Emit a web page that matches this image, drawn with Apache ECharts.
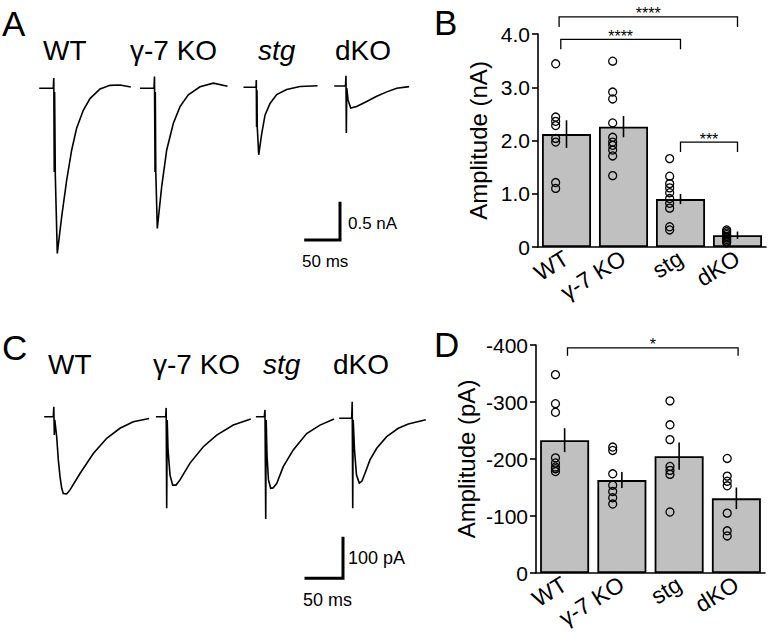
<!DOCTYPE html>
<html><head><meta charset="utf-8">
<script src="https://cdn.jsdelivr.net/npm/echarts@6/dist/echarts.min.js"></script>
<style>html,body{margin:0;padding:0;background:#fff}#c{width:773px;height:637px}</style>
</head><body><div id="c"></div>
<script>
// ---------------- DATA ----------------
const groups = ['WT', 'γ-7 KO', 'stg', 'dKO'];

// Panel B: amplitude (nA)
const B_mean = [2.12, 2.26, 0.90, 0.22];
const B_sem = [0.26, 0.20, 0.095, 0.07];
const B_WT = [3.44, 2.44, 2.36, 2.28, 2.04, 1.97, 1.21, 1.10];
const B_G7 = [3.49, 2.91, 2.78, 2.33, 2.06, 1.97, 1.91, 1.82, 1.71, 1.34];
const B_STG = [1.66, 1.33, 1.19, 1.11, 1.02, 0.91, 0.82, 0.73, 0.38, 0.32];
const B_DKO = [0.32, 0.29, 0.26, 0.23, 0.20, 0.17, 0.14, 0.11, 0.08];
// significance brackets: [x from, x to (category units), height (nA)]
const B_brackets = [[-0.13, 3, 4.32], [-0.10, 2, 3.90], [2, 3, 1.97]];
const B_stars = ['****', '****', '***'];

// Panel D: amplitude (pA)
const D_mean = [-233, -163, -205, -131];
const D_sem = [21, 14, 24, 19];
const D_WT = [-348, -297, -282, -202, -193, -186, -183, -178];
const D_G7 = [-221, -215, -174, -154, -143, -132, -121];
const D_STG = [-302, -260, -234, -187, -180, -173, -107];
const D_DKO = [-201, -170, -161, -153, -105, -74, -65];
const D_brackets = [[0.05, 3.03, -395]];
const D_stars = ['*'];

// Panel A traces: time (ms), current (nA)
const A_WT_t = [0, 19.4, 20.1, 20.8, 21.3, 22.3, 25.2, 31.6, 38.9, 46.2, 53.5, 63.1, 72.9, 87.5, 102.1, 116.6, 131.2];
const A_WT_i = [0, 0, 0.14, -1.14, -0.05, -1.18, -2.25, -1.75, -1.25, -0.84, -0.54, -0.30, -0.14, -0.01, 0.04, 0.045, 0.02];
const A_G7_t = [0, 19.4, 20.1, 20.9, 21.3, 22.0, 24.2, 30.6, 37.9, 47.5, 57.3, 69.4, 86.5, 105.9, 125.4];
const A_G7_i = [0, 0, 0.16, -1.14, -0.05, -1.14, -1.91, -1.34, -0.84, -0.48, -0.25, -0.09, 0.02, 0.07, 0.03];
const A_STG_t = [0, 17.1, 17.5, 17.9, 18.5, 18.9, 21.0, 25.4, 30.2, 37.5, 47.2, 61.8, 81.2, 105.6];
const A_STG_i = [0, 0, 0.10, -0.54, -0.04, -0.54, -0.92, -0.63, -0.38, -0.22, -0.10, -0.03, 0.01, 0.02];
const A_DKO_t = [0, 15.3, 16.0, 16.5, 17.2, 19.0, 22.9, 31.6, 46.2, 60.8, 75.4, 90.0, 106.9];
const A_DKO_i = [0, 0, 0.14, -0.64, -0.03, -0.19, -0.30, -0.28, -0.21, -0.14, -0.08, -0.03, -0.01];
const A_scale = [[0, 0], [50, 0], [50, 0.5]]; // 50 ms, 0.5 nA

// Panel C traces: time (ms), current (pA)
const C_WT_t = [0, 11.2, 11.9, 12.6, 13.2, 15.8, 18.0, 20.3, 22.6, 24.7, 29.3, 33.8, 47.3, 65.3, 83.4, 101.3, 119.3, 139.6];
const C_WT_i = [0, 0, 25, -46, -8, -50, -108, -150, -179, -192, -193, -183, -142, -92, -54, -29, -12.5, -5];
const C_G7_t = [0, 12.2, 12.8, 13.5, 14.2, 15.3, 18.0, 21.6, 26.1, 31.5, 45.0, 63.0, 81.1, 103.5, 126.1];
const C_G7_i = [0, 0, 22, -229, -8, -83, -146, -171, -171, -158, -116, -75, -46, -21, -6.5];
const C_STG_t = [0, 10.3, 11.2, 12.2, 12.8, 13.9, 15.9, 18.9, 22.0, 27.0, 35.9, 49.4, 67.5, 85.5, 103.5];
const C_STG_i = [0, 0, 17, -256, -8, -96, -158, -179, -178, -167, -125, -83, -42, -21, -6.5];
const C_DKO_t = [0, 15.8, 16.5, 17.2, 17.8, 19.6, 22.3, 26.1, 29.7, 33.8, 40.5, 49.6, 63.1, 78.8, 92.3, 114.9];
const C_DKO_i = [0, 0, 41.5, -225, -4, -79, -142, -162, -157, -137.5, -104, -75, -46, -25, -14, -4];
const C_scale = [[0, 0], [50, 0], [50, 100]]; // 50 ms, 100 pA

// ---------------- LAYOUT / BUILD ----------------
const FONT = 'Liberation Sans, Arial, Helvetica, sans-serif';
const grids = [], xAxes = [], yAxes = [], series = [];

function addGrid(g) { g.outerBoundsMode = 'none'; g.containLabel = false; grids.push(g); return grids.length - 1; }

function traceAxes(x0, y0, pxX, pxY, up, down, width) {
  const gi = addGrid({ left: x0, top: y0 - up, width: width, height: up + down });
  xAxes.push({ type: 'value', gridIndex: gi, min: 0, max: width / pxX, show: false });
  yAxes.push({ type: 'value', gridIndex: gi, min: -down / pxY, max: up / pxY, show: false });
  return { x: xAxes.length - 1, y: yAxes.length - 1 };
}
function traceSeries(ax, t, v, w) {
  series.push({
    type: 'line', xAxisIndex: ax.x, yAxisIndex: ax.y, data: t.map((tt, k) => [tt, v[k]]),
    symbol: 'none', showSymbol: false, clip: false, silent: true,
    lineStyle: { color: '#000', width: w || 1.6, cap: 'square', join: 'miter' }
  });
}

// Panel A
const pxA_ms = 34.3 / 50, pxA_nA = 36.7 / 0.5;
[[A_WT_t, A_WT_i, 40, 88.3], [A_G7_t, A_G7_i, 140.7, 88.3], [A_STG_t, A_STG_i, 244.3, 87.3], [A_DKO_t, A_DKO_i, 335, 86]]
  .forEach(([t, v, x0, y0]) => traceSeries(traceAxes(x0, y0, pxA_ms, pxA_nA, 30, 200, 140), t, v));
traceSeries(traceAxes(305.7, 240, pxA_ms, pxA_nA, 60, 20, 60), A_scale.map(p => p[0]), A_scale.map(p => p[1]), 3);

// Panel C
const pxC_ms = 37 / 50, pxC_pA = 40 / 100;
[[C_WT_t, C_WT_i, 45, 416.7], [C_G7_t, C_G7_i, 156.7, 416.7], [C_STG_t, C_STG_i, 256.7, 416.7], [C_DKO_t, C_DKO_i, 340, 418.3]]
  .forEach(([t, v, x0, y0]) => traceSeries(traceAxes(x0, y0, pxC_ms, pxC_pA, 30, 120, 140), t, v));
traceSeries(traceAxes(306, 578.3, pxC_ms, pxC_pA, 60, 20, 60), C_scale.map(p => p[0]), C_scale.map(p => p[1]), 3);

// Bar panels
const axisLine = { lineStyle: { color: '#000', width: 1.6 } };
const axisTick = { inside: false, length: 6, lineStyle: { color: '#000', width: 1.6 } };
function barPanel(opts) {
  const gi = addGrid({ left: opts.left, top: opts.top, width: opts.width, height: opts.height });
  xAxes.push({
    type: 'category', gridIndex: gi, data: groups, position: 'bottom',
    axisLine: Object.assign({ onZero: false }, axisLine),
    axisTick: Object.assign({ alignWithLabel: true, interval: 0 }, axisTick),
    axisLabel: { rotate: 32, margin: 9, interval: 0, hideOverlap: false, fontSize: 23, fontFamily: FONT, color: '#000' }
  });
  const xCat = xAxes.length - 1;
  xAxes.push({ type: 'value', gridIndex: gi, min: -0.5, max: 3.5, show: false });
  const xVal = xAxes.length - 1;
  yAxes.push({
    type: 'value', gridIndex: gi, min: opts.min, max: opts.max, interval: opts.interval, inverse: !!opts.inverse,
    name: opts.name, nameLocation: 'middle', nameGap: opts.nameGap,
    nameTextStyle: { fontSize: 24, fontFamily: FONT, color: '#000' },
    axisLine: Object.assign({ onZero: false }, axisLine), axisTick: axisTick, splitLine: { show: false },
    axisLabel: { fontSize: 21, fontFamily: FONT, color: '#000', margin: 8, formatter: opts.fmt }
  });
  const yi = yAxes.length - 1;
  series.push({
    type: 'bar', xAxisIndex: xCat, yAxisIndex: yi, data: opts.mean, barWidth: 49, z: 2, silent: true,
    itemStyle: { color: '#c0c0c0', borderColor: '#000', borderWidth: 1.8 }
  });
  const pts = [];
  opts.dots.forEach((arr, i) => arr.forEach(v => pts.push([i + opts.dotOff, v])));
  series.push({
    type: 'scatter', xAxisIndex: xVal, yAxisIndex: yi, data: pts, symbol: 'circle', symbolSize: 8, z: 3, silent: true,
    itemStyle: { color: 'rgba(0,0,0,0)', borderColor: '#000', borderWidth: 1.3, opacity: 1 }
  });
  series.push({
    type: 'custom', xAxisIndex: xVal, yAxisIndex: yi, z: 4, silent: true,
    data: opts.mean.map((m, i) => [i, m, opts.sem[i]]),
    renderItem: (p, api) => {
      const x = api.value(0), m = api.value(1), s = api.value(2);
      const a = api.coord([x, m - s]), b = api.coord([x, m + s]);
      return { type: 'line', shape: { x1: a[0], y1: a[1], x2: b[0], y2: b[1] }, style: { stroke: '#000', lineWidth: 1.6 } };
    }
  });
  series.push({
    type: 'custom', xAxisIndex: xVal, yAxisIndex: yi, z: 5, silent: true, clip: false,
    data: opts.brackets,
    renderItem: (p, api) => {
      const x1 = api.value(0), x2 = api.value(1), y = api.value(2);
      const a = api.coord([x1, y]), b = api.coord([x2, y]);
      const L = opts.leg;
      return {
        type: 'group', children: [
          { type: 'polyline', shape: { points: [[a[0], a[1] + L], [a[0], a[1]], [b[0], b[1]], [b[0], b[1] + L]] },
            style: { stroke: '#000', lineWidth: 1.3, fill: null } },
          { type: 'text', style: { text: opts.stars[p.dataIndex], x: (a[0] + b[0]) / 2, y: a[1] - 3,
            align: 'center', verticalAlign: 'middle', textAlign: 'center', textVerticalAlign: 'middle',
            fontSize: 16, fontFamily: FONT, fill: '#000' } }
        ]
      };
    }
  });
}

barPanel({
  left: 538, top: 34, width: 228, height: 213, min: 0, max: 4, interval: 1,
  name: 'Amplitude (nA)', nameGap: 48, fmt: v => (v === 0 ? '0' : v.toFixed(1)),
  mean: B_mean, sem: B_sem, dots: [B_WT, B_G7, B_STG, B_DKO], dotOff: -0.19,
  brackets: B_brackets, stars: B_stars, leg: 10
});
barPanel({
  left: 536, top: 345, width: 229, height: 228, min: -400, max: 0, interval: 100, inverse: true,
  name: 'Amplitude (pA)', nameGap: 58, fmt: v => String(v),
  mean: D_mean, sem: D_sem, dots: [D_WT, D_G7, D_STG, D_DKO], dotOff: -0.16,
  brackets: D_brackets, stars: D_stars, leg: 8
});

// Text labels
function txt(s, x, y, size, extra) {
  return Object.assign({ type: 'text', x: x, y: y, silent: true, style: {
    text: s, fontSize: size, fontFamily: FONT, fill: '#000',
    align: 'left', verticalAlign: 'middle', textAlign: 'left', textVerticalAlign: 'middle' } }, extra || {});
}
function itxt(s, x, y, size) { const t = txt(s, x, y, size); t.style.fontStyle = 'italic'; return t; }
const graphic = [
  txt('A', 2, 23, 35), txt('B', 434, 22, 35), txt('C', 2, 347, 35), txt('D', 434, 344, 35),
  txt('WT', 43, 50, 28), txt('γ-7 KO', 130, 50, 28), itxt('stg', 258, 50, 28), txt('dKO', 335, 50, 28),
  txt('WT', 48, 364, 28), txt('γ-7 KO', 153, 364, 28), itxt('stg', 263, 364, 28), txt('dKO', 333, 364, 28),
  txt('0.5 nA', 348, 223, 17), txt('50 ms', 302, 261, 17),
  txt('100 pA', 348, 558, 18), txt('50 ms', 303, 600, 18)
];

const chart = echarts.init(document.getElementById('c'), null, { renderer: 'svg', width: 773, height: 637 });
chart.setOption({
  animation: false, backgroundColor: '#fff',
  grid: grids, xAxis: xAxes, yAxis: yAxes, series: series, graphic: graphic
});
</script></body></html>
